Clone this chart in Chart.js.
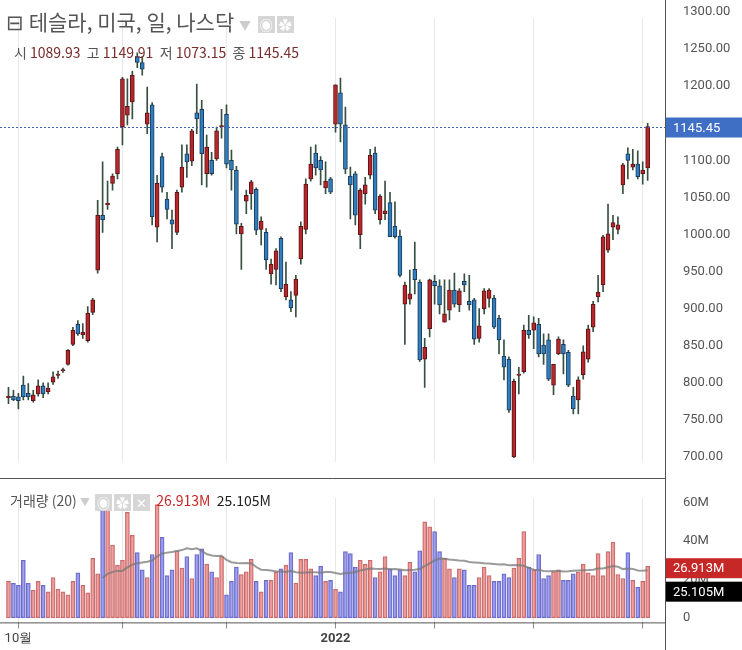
<!DOCTYPE html>
<html>
<head>
<meta charset="utf-8">
<script src="https://cdn.jsdelivr.net/npm/chart.js@4.4.1/dist/chart.umd.min.js"></script>
<style>
  body { margin: 0; background: #fff; font-family: "Noto Sans CJK KR", "Noto Sans", sans-serif; }
  #wrap { position: relative; width: 742px; height: 650px; overflow: hidden; }
  #main { position: absolute; left: 0; top: 0; }
  #vol { position: absolute; left: 0; top: 480px; }
  .txt { position: absolute; white-space: nowrap; color: #555; }
  .val { color: #7a2b2b; }
  .ico { display: inline-block; width: 17px; height: 17px; background: #d6d6d6; vertical-align: middle; margin-left: 2px; color: #fff; font-size: 13px; line-height: 17px; text-align: center; }
</style>
</head>
<body>
<div id="wrap">
  <canvas id="main" width="742" height="480"></canvas>
  <canvas id="vol" width="742" height="170"></canvas>
  <div class="txt" style="left:6px;top:6px;font-size:21px;">⊟ 테슬라, 미국, 일, 나스닥 <span style="color:#ccc;font-size:12px;">▼</span> <span class="ico">◉</span><span class="ico">✿</span></div>
  <div class="txt" style="left:14px;top:42px;font-size:14px;">시 <span class="val">1089.93</span>&nbsp; 고 <span class="val">1149.91</span>&nbsp; 저 <span class="val">1073.15</span>&nbsp; 종 <span class="val">1145.45</span></div>
  <div class="txt" style="left:10px;top:490px;font-size:14px;">거래량 (20) <span style="color:#ccc;font-size:10px;">▼</span> <span class="ico">◉</span><span class="ico">✿</span><span class="ico">✕</span>&nbsp; <span style="color:#c62828;">26.913M</span>&nbsp; <span style="color:#222;">25.105M</span></div>
</div>
<script>
const open = [780,782,781,797,786,776,785,796,788,801, 810,816,825,852,879,865,857,895,952,1026,
  1040,1069,1082,1145,1161,1179,1240,1232,1149,1175, 1010,1105,1048,1020,1003,1064,1109,1099,1164,1169,
  1082,1100,1102,1145,1162,1100,1087,1001,1045,1055, 1061,1007,1003,947,953,995,916,912,918,967,
  1007,1075,1110,1100,1063,1075,1149,1191,1148,1079, 1082,1000,1055,1080,1110,1020,1028,1043,1011,998,
  906,913,953,936,832,873,937,931,882,898, 925,905,937,910,912,860,900,914,914,887,
  836,832,700,810,815,871,871,879,851,858, 797,839,852,841,782,777,811,832,875,916,
  932,979,1010,1007,1067,1109,1091,1095,1082,1089.93];
const high = [794,790,786,809,799,790,804,800,800,815, 816,820,845,875,884,880,903,914,1046,1098,
  1072,1082,1118,1212,1210,1220,1245,1240,1199,1178, 1080,1110,1057,1033,1060,1121,1121,1142,1203,1181,
  1134,1111,1145,1169,1175,1114,1092,1015,1060,1073, 1063,1024,1008,967,981,997,963,923,945,1017,
  1075,1118,1121,1105,1098,1077,1202,1211,1172,1091, 1085,1062,1077,1115,1118,1054,1072,1057,1044,1006,
  936,952,990,939,860,940,945,939,939,939, 948,927,947,945,914,900,927,927,918,891,
  858,835,805,821,878,891,889,887,866,866, 825,862,858,844,794,808,850,878,910,945,
  999,1041,1026,1024,1096,1117,1115,1113,1098,1149.91];
const low = [772,776,765,777,777,774,782,780,785,798, 806,814,824,850,864,860,855,892,948,1003,
  1034,1060,1075,1121,1148,1156,1225,1215,1136,1013, 990,1057,1021,981,1000,1057,1077,1093,1136,1067,
  1064,1080,1100,1130,1090,1060,1001,953,1028,1034, 1000,986,953,933,932,923,912,896,889,960,
  1001,1072,1080,1067,1055,1055,1138,1125,1082,1021, 1013,981,1041,1075,1028,1014,1020,997,995,943,
  852,906,920,829,794,862,906,893,882,885, 902,896,923,898,852,855,893,902,873,839,
  804,760,699,785,813,860,846,835,825,803, 784,838,812,795,758,758,805,828,869,909,
  923,976,993,1001,1055,1075,1087,1075,1068,1073.15];
const close = [782,777,776,781,781,784,796,785,793,808, 812,818,844,871,866,868,894,912,1026,1020,
  1042,1079,1115,1210,1173,1215,1232,1223,1164,1024, 1069,1064,1034,1014,1057,1091,1098,1140,1156,1109,
  1118,1082,1140,1147,1095,1087,1014,1011,1053,1071, 1006,1018,966,960,978,927,933,901,940,1011,
  1068,1095,1090,1087,1072,1057,1202,1149,1088,1067, 1026,1060,1067,1107,1033,1052,1032,997,997,945,
  932,920,939,831,848,939,931,905,893,925, 906,924,932,905,859,877,924,925,875,858,
  821,763,802,812,871,865,881,839,839,805, 825,859,839,797,765,804,842,873,906,922,
  997,1001,1016,1013,1094,1100,1095,1078,1087,1145.45];
// volume in millions
const volume = [19,18,17,30,18,14.5,19,17,13.5,21, 15,13.5,12,19,23.5,17,13,31,23,62,
  62,38,27.5,30,55,43,34,25,21,33, 59,42,22,25,35,26,32,20.5,33,36,
  28,24,21,32,12,19,26.5,22.5,24,30.5, 19,13.5,19.5,19.5,24,25.5,27.5,34,18,30.5,
  30.5,25.5,22,27,19,19.5,15,13.5,34.5,33.5, 26.5,30,28,30,21,24,32,25.5,22,25,
  22,29,24,35,50,47.5,45,34.5,31,25.5, 21,25.5,25,17,17,21,26.5,22,19,19,
  23,21,26,31,45,26.5,25,33,20.5,22, 24,25,19.5,19.5,23,24,28,23.5,22,33.5,
  22,34.5,39.5,22.5,20.5,34,19.5,16,19,26.913];
const volMA = 25.105; // shown MA(20) value
const tickIdx = [2, 23, 44, 66, 86, 106, 128];
const tickText = ['10월', '', '', '2022', '', '', ''];
const priceTicks = [700,750,800,850,900,950,1000,1050,1100,1150,1200,1250,1300];
const volTicks = [0, 20, 40, 60];

const slots = open.length + 3; // empty room right of the last candle
const labels = Array.from({ length: slots }, (_, i) => i);
const up = open.map((o, i) => close[i] >= o);
const wicks = open.map((_, i) => [low[i], high[i]]);
const bodies = open.map((_, i) => {
  let a = Math.min(open[i], close[i]), b = Math.max(open[i], close[i]);
  if (b - a < 1) { a -= 0.7; b += 0.7; }
  return [a, b];
});
const ma20 = volume.map((v, i) => {
  if (i < 19) return null;
  let s = 0;
  for (let k = i - 19; k <= i; k++) s += volume[k];
  return s / 20;
});

const RIGHT_W = 77;
const xScale = (showLabels) => ({
  offset: true,
  grid: {
    offset: false,
    color: (ctx) => (ctx.tick && tickIdx.includes(ctx.tick.value)) ? '#e8e8e8' : 'rgba(0,0,0,0)',
    drawTicks: showLabels, tickLength: 6, tickColor: '#888'
  },
  border: { display: false },
  afterBuildTicks: (s) => { s.ticks = tickIdx.map(v => ({ value: v })); },
  ticks: {
    display: showLabels, autoSkip: false, maxRotation: 0, color: '#444',
    font: (ctx) => ({ family: 'Roboto', size: 13, weight: (ctx.tick && ctx.tick.value === 66) ? 'bold' : 'normal' }),
    callback: (v) => tickText[tickIdx.indexOf(v)]
  }
});

function drawTag(ctx, x, y, text, bg, fg) {
  ctx.font = '13px Roboto';
  ctx.fillStyle = bg;
  ctx.fillRect(x, y - 10, 742 - x, 20);
  ctx.fillStyle = fg;
  ctx.textBaseline = 'middle';
  ctx.fillText(text, x + 7, y + 1);
}

const framePlugin = {
  id: 'frame',
  afterDraw(chart) {
    const { ctx, chartArea: a } = chart;
    ctx.save();
    ctx.strokeStyle = '#555';
    ctx.lineWidth = 1;
    ctx.beginPath();
    ctx.moveTo(a.right + 0.5, 0); ctx.lineTo(a.right + 0.5, chart.height);
    if (chart.canvas.id === 'main') { ctx.moveTo(0, chart.height - 1.5); ctx.lineTo(a.right, chart.height - 1.5); }
    else { ctx.moveTo(0, a.bottom + 0.5); ctx.lineTo(a.right, a.bottom + 0.5); }
    ctx.stroke();
    const ys = chart.scales.y;
    if (chart.canvas.id === 'main') {
      const y = Math.round(ys.getPixelForValue(close[close.length - 1])) + 0.5;
      ctx.setLineDash([2, 2]);
      ctx.strokeStyle = '#3b5fb0';
      ctx.beginPath(); ctx.moveTo(0, y); ctx.lineTo(a.right, y); ctx.stroke();
      ctx.setLineDash([]);
      drawTag(ctx, a.right + 1, y, close[close.length - 1].toFixed(2), '#3f6fc4', '#fff');
    } else {
      drawTag(ctx, a.right + 1, ys.getPixelForValue(volume[volume.length - 1]) + 2, volume[volume.length - 1].toFixed(3) + 'M', '#c62828', '#fff');
      drawTag(ctx, a.right + 1, ys.getPixelForValue(volMA) + 22, volMA.toFixed(3) + 'M', '#000', '#fff');
    }
    ctx.restore();
  }
};

new Chart(document.getElementById('main'), {
  type: 'bar',
  data: {
    labels,
    datasets: [
      { data: wicks, backgroundColor: '#36503f', barThickness: 1, grouped: false, order: 2 },
      { data: bodies, backgroundColor: up.map(u => u ? '#b7262a' : '#2f7fc0'),
        borderColor: up.map(u => u ? '#5a1416' : '#1b3a57'), borderWidth: 1, borderSkipped: false,
        barThickness: 4, grouped: false, order: 1 }
    ]
  },
  options: {
    animation: false, responsive: false,
    layout: { padding: { left: 6, top: 0, bottom: 0 } },
    plugins: { legend: { display: false }, tooltip: { enabled: false } },
    scales: {
      x: xScale(false),
      y: {
        position: 'right', min: 693, max: 1292.3,
        grid: { display: false }, border: { display: false },
        afterBuildTicks: (s) => { s.ticks = priceTicks.map(v => ({ value: v })); },
        afterFit: (s) => { s.width = RIGHT_W; },
        ticks: { color: '#555', font: { family: 'Roboto', size: 13 }, padding: 10, callback: v => v.toFixed(2) }
      }
    }
  },
  plugins: [framePlugin]
});

new Chart(document.getElementById('vol'), {
  data: {
    labels,
    datasets: [
      { type: 'line', data: ma20, borderColor: 'rgba(120,120,120,0.75)', borderWidth: 2, pointRadius: 0, order: 1 },
      { type: 'bar', data: volume, backgroundColor: up.map(u => u ? 'rgba(232,140,140,0.8)' : 'rgba(140,140,232,0.8)'),
        borderColor: up.map(u => u ? '#c76a6a' : '#6a6ac7'), borderWidth: 1, borderSkipped: false,
        barThickness: 4, order: 2 }
    ]
  },
  options: {
    animation: false, responsive: false,
    layout: { padding: { left: 6, top: 2, bottom: 0 } },
    plugins: { legend: { display: false }, tooltip: { enabled: false } },
    scales: {
      x: xScale(true),
      y: {
        position: 'right', min: -2.4, max: 62.6,
        grid: { display: false }, border: { display: false },
        afterBuildTicks: (s) => { s.ticks = volTicks.map(v => ({ value: v })); },
        afterFit: (s) => { s.width = RIGHT_W; },
        ticks: { color: '#555', font: { family: 'Roboto', size: 13 }, padding: 10, callback: v => v === 0 ? '0' : v + 'M' }
      }
    }
  },
  plugins: [framePlugin]
});
</script>
</body>
</html>
